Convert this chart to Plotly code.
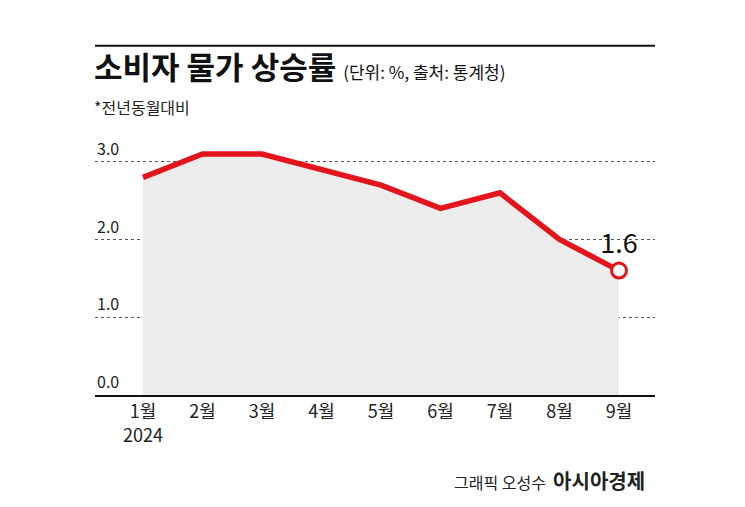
import plotly.graph_objects as go

months = ["1월", "2월", "3월", "4월", "5월", "6월", "7월", "8월", "9월"]
tick_text = ["1월<br>2024", "2월", "3월", "4월", "5월", "6월", "7월", "8월", "9월"]
cpi = [2.8, 3.1, 3.1, 2.9, 2.7, 2.4, 2.6, 2.0, 1.6]
y_ticks = [0.0, 1.0, 2.0, 3.0]

RED = "#e3141c"
FONT = "Noto Sans CJK KR"
x = list(range(len(months)))

fig = go.Figure()
fig.add_trace(go.Scatter(
    x=x, y=cpi, mode="lines", fill="tozeroy", fillcolor="#ececec",
    line=dict(color=RED, width=5.5), hoverinfo="skip", showlegend=False,
))
fig.add_trace(go.Scatter(
    x=[x[-1]], y=[cpi[-1]], mode="markers+text",
    marker=dict(size=15, color="white", line=dict(color=RED, width=3)),
    text=[f"{cpi[-1]:.1f}"], textposition="top center",
    textfont=dict(size=27, color="#111", family=FONT), showlegend=False,
))

for v in y_ticks:
    fig.add_annotation(x=0, xref="paper", y=v, yref="y", text=f"{v:.1f}",
                       showarrow=False, xanchor="left", yanchor="bottom",
                       font=dict(size=16, color="#222", family=FONT))

fig.add_shape(type="line", xref="paper", yref="paper", x0=0, x1=1, y0=1.37, y1=1.37,
              line=dict(color="#111", width=2))
fig.add_annotation(x=-0.006, xref="paper", y=1.195, yref="paper", xanchor="left",
                   yanchor="bottom", showarrow=False,
                   text="<b>소비자 물가 상승률</b> <span style='font-size:17px'>(단위: %, 출처: 통계청)</span>",
                   font=dict(size=31, color="#111", family=FONT))
fig.add_annotation(x=-0.005, xref="paper", y=1.075, yref="paper", xanchor="left",
                   yanchor="bottom", showarrow=False, text="*전년동월대비",
                   font=dict(size=16, color="#222", family=FONT))
fig.add_annotation(x=0.985, xref="paper", y=-0.27, yref="paper", xanchor="right",
                   yanchor="top", showarrow=False,
                   text="그래픽 오성수  <b><span style='font-size:20px'>아시아경제</span></b>",
                   font=dict(size=16, color="#222", family=FONT))

fig.update_layout(
    width=745, height=507,
    margin=dict(l=87, r=98, t=132, b=120),
    paper_bgcolor="white", plot_bgcolor="white",
    font=dict(family=FONT, color="#222"),
    xaxis=dict(range=[-0.807, 8.605], tickvals=x, ticktext=tick_text,
               showgrid=False, zeroline=False, showline=True, linecolor="#111",
               linewidth=1.5, ticks="", tickfont=dict(size=18)),
    yaxis=dict(range=[0, 3.28], tickvals=y_ticks, showticklabels=False,
               showgrid=True, gridcolor="#555", griddash="dot", gridwidth=1,
               zeroline=False),
)

fig.write_html("out.html")
